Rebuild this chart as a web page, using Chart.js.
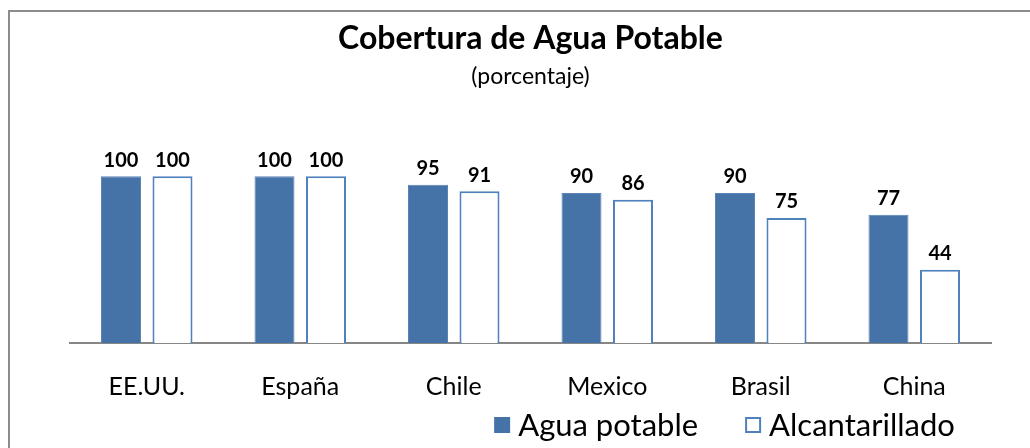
<!DOCTYPE html>
<html><head><meta charset="utf-8">
<script src="https://cdn.jsdelivr.net/npm/chart.js@4"></script>
<style>
html,body{margin:0;padding:0;background:#fff;}
#frame{position:absolute;left:8px;top:10px;width:1040px;height:460px;border-left:2px solid #8c8c8c;border-top:2px solid #8c8c8c;}
#wrap{position:absolute;left:0;top:0;width:1030px;height:448px;}
</style></head>
<body>
<div id="frame"></div>
<div id="wrap"><canvas id="c" width="1030" height="448"></canvas></div>
<script>
const categories = ["EE.UU.", "España", "Chile", "Mexico", "Brasil", "China"];
const aguaPotable = [100, 100, 95, 90, 90, 77];
const alcantarillado = [100, 100, 91, 86, 75, 44];
const seriesNames = ["Agua potable", "Alcantarillado"];

const FONT = "Lato";
const valueLabels = {
  id: 'valueLabels',
  afterDatasetsDraw(chart) {
    const ctx = chart.ctx;
    ctx.save();
    ctx.font = "bold 20px " + FONT;
    ctx.fillStyle = "#000";
    ctx.textAlign = "center";
    ctx.textBaseline = "bottom";
    chart.data.datasets.forEach((ds, i) => {
      chart.getDatasetMeta(i).data.forEach((el, j) => {
        ctx.fillText(String(ds.data[j]), el.x, el.y - 6);
      });
    });
    ctx.restore();
  }
};

const customLegend = {
  id: 'customLegend',
  afterDraw(chart) {
    const ctx = chart.ctx;
    const area = chart.chartArea;
    ctx.save();
    ctx.font = "31px " + FONT;
    ctx.textBaseline = "middle";
    ctx.textAlign = "left";
    const box = 16, gapText = 8, gapItem = 47;
    const items = chart.data.datasets.map(ds => ({ ds, w: ctx.measureText(ds.label).width }));
    let total = 0;
    items.forEach((it, i) => { total += box + gapText + it.w + (i < items.length - 1 ? gapItem : 0); });
    let x = (area.left + area.right) / 2 + 194 - total / 2;
    const yc = chart.height - 23;
    items.forEach(it => {
      const ds = it.ds;
      if (ds.backgroundColor === '#ffffff') {
        ctx.fillStyle = '#ffffff';
        ctx.fillRect(x, yc - box / 2, box, box);
        ctx.strokeStyle = ds.borderColor; ctx.lineWidth = 2;
        ctx.strokeRect(x + 1, yc - box / 2 + 1, box - 2, box - 2);
      } else {
        ctx.fillStyle = ds.backgroundColor;
        ctx.fillRect(x, yc - box / 2, box, box);
      }
      x += box + gapText;
      ctx.fillStyle = '#000';
      ctx.fillText(ds.label, x, yc + 1);
      x += it.w + gapItem;
    });
    ctx.restore();
  }
};

new Chart(document.getElementById('c'), {
  type: 'bar',
  data: {
    labels: categories,
    datasets: [
      { label: seriesNames[0], data: aguaPotable, backgroundColor: '#4572a7', borderColor: '#5a84b8', borderWidth: 1,
        categoryPercentage: 0.671, barPercentage: 0.777 },
      { label: seriesNames[1], data: alcantarillado, backgroundColor: '#ffffff', borderColor: '#4f81bd', borderWidth: 2,
        categoryPercentage: 0.671, barPercentage: 0.777 }
    ]
  },
  options: {
    responsive: false,
    animation: false,
    layout: { padding: { left: 70, right: 39, top: 0, bottom: 17 } },
    plugins: {
      title: { display: true, text: 'Cobertura de Agua Potable', color: '#000',
        font: { family: FONT, size: 32, weight: 'bold' }, padding: { top: 19, bottom: 5 } },
      subtitle: { display: true, text: '(porcentaje)', color: '#000',
        font: { family: FONT, size: 23 }, padding: { top: 0, bottom: 53 } },
      legend: { display: false },
      tooltip: { enabled: false }
    },
    scales: {
      x: { grid: { display: false, drawTicks: false }, border: { color: '#868686', width: 2 },
        ticks: { color: '#000', font: { family: FONT, size: 25 }, padding: 29 } },
      y: { display: false, min: 0, max: 120 }
    }
  },
  plugins: [valueLabels, customLegend]
});
</script>
</body></html>
